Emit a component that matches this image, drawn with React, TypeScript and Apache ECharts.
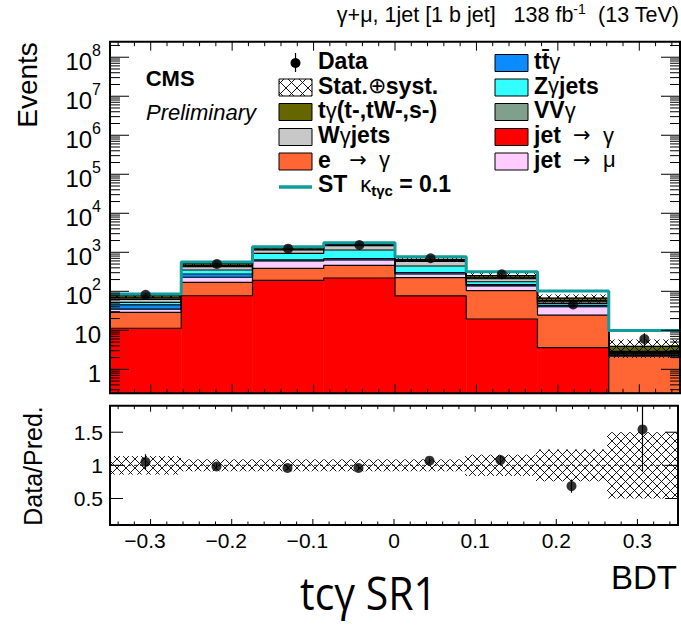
import React, { useEffect, useRef } from "react";
import * as echarts from "echarts";

const FONT = "'Liberation Sans', Arial, Helvetica, sans-serif";

// ---------- data ----------
const binEdges = [-0.35, -0.2625, -0.175, -0.0875, 0, 0.0875, 0.175, 0.2625, 0.35];
// stacked backgrounds, bottom -> top
const jetToGamma = [11.3, 77, 191, 219, 76, 19.5, 3.6, 0.1];
const eToGamma = [17.7, 93, 198, 245, 147, 84.5, 21, 2.09];
const jetToMu = [6, 59, 209, 171, 55, 33, 15.6, 0.1];
const ttGamma = [10, 49, 40, 50, 25, 12, 3.5, 0.15];
const zGammaJets = [7, 74, 304, 460, 142, 27, 5.3, 0.1];
const wGammaJets = [10, 75, 203, 331, 143, 34, 5, 0.15];
const vvGamma = [6, 27, 50, 50, 25, 12, 4, 0.2];
const tGamma = [9, 56, 93, 76, 43, 31, 9, 1.0];
const dataCounts = [81, 501, 1237, 1538, 702, 273, 46, 6];
const signalST = [8, 54, 105, 161, 115, 65, 35, 6];
const relUncertainty = [0.14, 0.09, 0.09, 0.09, 0.09, 0.16, 0.24, 0.5];
const xTickLabels = ["−0.3", "−0.2", "−0.1", "0", "0.1", "0.2", "0.3"];
const ratioTickLabels = ["0.5", "1", "1.5"];

const backgrounds = [
  { name: "jet → γ", values: jetToGamma, color: "#FF0000" },
  { name: "e → γ", values: eToGamma, color: "#FF6633" },
  { name: "jet → μ", values: jetToMu, color: "#FFCCFF" },
  { name: "tt̄γ", values: ttGamma, color: "#0A8CFF" },
  { name: "Zγjets", values: zGammaJets, color: "#33FFFF" },
  { name: "Wγjets", values: wGammaJets, color: "#C8C8C8" },
  { name: "VVγ", values: vvGamma, color: "#809F8C" },
  { name: "tγ(t-,tW-,s-)", values: tGamma, color: "#666600" },
];

// ---------- axis ranges ----------
const X_MIN = -0.35, X_MAX = 0.35;
const Y_MIN = 0.243, Y_MAX = 2.5e8;
const R_MIN = 0.1, R_MAX = 1.9;
const TEAL = "#0E9C9C";

function hatchSegments(x0: number, y0: number, x1: number, y1: number, p: number) {
  const segs: number[][] = [];
  for (let k = Math.floor((x0 - y1) / p); k <= Math.ceil((x1 - y0) / p); k++) {
    const c = k * p;
    const lo = Math.max(x0, y0 + c), hi = Math.min(x1, y1 + c);
    if (hi > lo) segs.push([lo, lo - c, hi, hi - c]);
  }
  for (let k = Math.floor((x0 + y0) / p); k <= Math.ceil((x1 + y1) / p); k++) {
    const c = k * p;
    const lo = Math.max(x0, c - y1), hi = Math.min(x1, c - y0);
    if (hi > lo) segs.push([lo, c - lo, hi, c - hi]);
  }
  return segs;
}
function segsToPath(segs: number[][]) {
  return segs.map((s) => `M${s[0]} ${s[1]}L${s[2]} ${s[3]}`).join("");
}

function buildOption() {
  const nBins = binEdges.length - 1;
  const centers = binEdges.slice(0, -1).map((e, i) => (e + binEdges[i + 1]) / 2);
  const cum: number[][] = [];
  let run = new Array(nBins).fill(0);
  backgrounds.forEach((b) => {
    run = run.map((v, i) => v + b.values[i]);
    cum.push(run.slice());
  });
  const total = cum[cum.length - 1];

  const series: any[] = [];

  // stacked fills
  backgrounds.forEach((b, l) => {
    const lower = l === 0 ? new Array(nBins).fill(Y_MIN) : cum[l - 1];
    series.push({
      type: "custom",
      name: b.name,
      xAxisIndex: 0,
      yAxisIndex: 0,
      z: 2,
      silent: true,
      clip: true,
      encode: { x: [0, 1], y: [2, 3] },
      data: lower.map((lo, i) => [binEdges[i], binEdges[i + 1], Math.max(lo, Y_MIN), cum[l][i]]),
      renderItem: (params: any, api: any) => {
        const hi = api.value(3);
        if (hi <= Y_MIN) return { type: "group", children: [] };
        const a = api.coord([api.value(0), api.value(2)]);
        const c = api.coord([api.value(1), Math.min(hi, Y_MAX)]);
        return {
          type: "rect",
          shape: { x: a[0], y: c[1], width: c[0] - a[0], height: a[1] - c[1] },
          style: { fill: b.color, stroke: b.color, lineWidth: 0.6 },
        };
      },
    });
  });

  // outlines (step lines)
  backgrounds.forEach((b, l) => {
    const pts: number[][] = [];
    cum[l].forEach((v, i) => {
      const y = Math.max(v, Y_MIN);
      pts.push([binEdges[i], y], [binEdges[i + 1], y]);
    });
    series.push({
      type: "line",
      xAxisIndex: 0,
      yAxisIndex: 0,
      z: 3,
      silent: true,
      symbol: "none",
      data: pts,
      lineStyle: { color: "#000", width: 1.2 },
    });
  });

  // uncertainty hatch (top)
  series.push({
    type: "custom",
    xAxisIndex: 0,
    yAxisIndex: 0,
    z: 4,
    silent: true,
    clip: true,
    encode: { x: [0, 1], y: [2, 3] },
    data: total.map((t, i) => [binEdges[i], binEdges[i + 1], t * (1 - relUncertainty[i]), t * (1 + relUncertainty[i])]),
    renderItem: (params: any, api: any) => {
      const a = api.coord([api.value(0), api.value(2)]);
      const c = api.coord([api.value(1), api.value(3)]);
      return {
        type: "path",
        shape: { pathData: segsToPath(hatchSegments(a[0], c[1], c[0], a[1], 9)) || "M0 0" },
        style: { stroke: "#000", lineWidth: 0.9, fill: null },
      };
    },
  });

  // signal ST line
  const stPts: number[][] = [];
  total.forEach((t, i) => {
    stPts.push([binEdges[i], t + signalST[i]], [binEdges[i + 1], t + signalST[i]]);
  });
  series.push({
    type: "line",
    xAxisIndex: 0,
    yAxisIndex: 0,
    z: 5,
    silent: true,
    symbol: "none",
    data: stPts,
    lineStyle: { color: TEAL, width: 3 },
  });

  // data error bars + points
  series.push({
    type: "custom",
    xAxisIndex: 0,
    yAxisIndex: 0,
    z: 6,
    silent: true,
    clip: true,
    encode: { x: 0, y: [1, 2] },
    data: dataCounts.map((n, i) => [centers[i], n - Math.sqrt(n), n + Math.sqrt(n)]),
    renderItem: (params: any, api: any) => {
      const a = api.coord([api.value(0), api.value(1)]);
      const c = api.coord([api.value(0), api.value(2)]);
      return { type: "line", shape: { x1: a[0], y1: a[1], x2: c[0], y2: c[1] }, style: { stroke: "#000", lineWidth: 1.2 } };
    },
  });
  series.push({
    type: "scatter",
    xAxisIndex: 0,
    yAxisIndex: 0,
    z: 7,
    silent: true,
    symbol: "circle",
    symbolSize: 10,
    itemStyle: { color: "#000" },
    data: dataCounts.map((n, i) => [centers[i], n]),
  });

  // ---- ratio panel ----
  series.push({
    type: "custom",
    xAxisIndex: 1,
    yAxisIndex: 1,
    z: 4,
    silent: true,
    clip: true,
    encode: { x: [0, 1], y: [2, 3] },
    data: relUncertainty.map((u, i) => [binEdges[i], binEdges[i + 1], 1 - u, 1 + u]),
    renderItem: (params: any, api: any) => {
      const a = api.coord([api.value(0), api.value(2)]);
      const c = api.coord([api.value(1), api.value(3)]);
      return {
        type: "path",
        shape: { pathData: segsToPath(hatchSegments(a[0], c[1], c[0], a[1], 9)) || "M0 0" },
        style: { stroke: "#000", lineWidth: 0.9, fill: null },
      };
    },
  });
  series.push({
    type: "line",
    xAxisIndex: 1,
    yAxisIndex: 1,
    z: 3,
    silent: true,
    symbol: "none",
    data: [[X_MIN, 1], [X_MAX, 1]],
    lineStyle: { color: "#333", width: 1, type: [3, 3] },
  });
  const ratio = dataCounts.map((n, i) => n / total[i]);
  const ratioErr = dataCounts.map((n, i) => Math.sqrt(n) / total[i]);
  series.push({
    type: "custom",
    xAxisIndex: 1,
    yAxisIndex: 1,
    z: 6,
    silent: true,
    clip: true,
    encode: { x: 0, y: [1, 2] },
    data: ratio.map((r, i) => [centers[i], r - ratioErr[i], r + ratioErr[i]]),
    renderItem: (params: any, api: any) => {
      const a = api.coord([api.value(0), api.value(1)]);
      const c = api.coord([api.value(0), api.value(2)]);
      return { type: "line", shape: { x1: a[0], y1: a[1], x2: c[0], y2: c[1] }, style: { stroke: "#000", lineWidth: 1.2 } };
    },
  });
  series.push({
    type: "scatter",
    xAxisIndex: 1,
    yAxisIndex: 1,
    z: 7,
    silent: true,
    symbol: "circle",
    symbolSize: 10,
    itemStyle: { color: "#000" },
    data: ratio.map((r, i) => [centers[i], r]),
  });

  // ---- frames & ticks ----
  series.push({
    type: "custom",
    xAxisIndex: 0,
    yAxisIndex: 0,
    z: 10,
    silent: true,
    clip: false,
    data: [[0, 1]],
    renderItem: (params: any, api: any) => {
      const [lx, by] = api.coord([X_MIN, Y_MIN]);
      const [rx, ty] = api.coord([X_MAX, Y_MAX]);
      let d = "";
      for (let i = -17; i <= 17; i++) {
        const x = api.coord([i * 0.02, 1])[0];
        const len = i % 5 === 0 ? 9 : 4.5;
        d += `M${x} ${by}L${x} ${by - len}M${x} ${ty}L${x} ${ty + len}`;
      }
      for (let k = -1; k <= 8; k++) {
        for (let m = 1; m <= 9; m++) {
          const v = m * Math.pow(10, k);
          if (v < Y_MIN || v > Y_MAX) continue;
          const y = api.coord([0, v])[1];
          const len = m === 1 ? 19 : 10;
          d += `M${lx} ${y}L${lx + len} ${y}M${rx} ${y}L${rx - len} ${y}`;
        }
      }
      return {
        type: "group",
        children: [
          { type: "path", shape: { pathData: d }, style: { stroke: "#000", lineWidth: 1, fill: null } },
          { type: "rect", shape: { x: lx, y: ty, width: rx - lx, height: by - ty }, style: { stroke: "#000", lineWidth: 2, fill: null } },
        ],
      };
    },
  });
  series.push({
    type: "custom",
    xAxisIndex: 1,
    yAxisIndex: 1,
    z: 10,
    silent: true,
    clip: false,
    data: [[0, 1]],
    renderItem: (params: any, api: any) => {
      const [lx, by] = api.coord([X_MIN, R_MIN]);
      const [rx, ty] = api.coord([X_MAX, R_MAX]);
      let d = "";
      for (let i = -17; i <= 17; i++) {
        const x = api.coord([i * 0.02, 1])[0];
        const len = i % 5 === 0 ? 6 : 3.5;
        d += `M${x} ${by}L${x} ${by - len}M${x} ${ty}L${x} ${ty + len}`;
      }
      [0.5, 1, 1.5].forEach((v) => {
        const y = api.coord([0, v])[1];
        d += `M${lx} ${y}L${lx + 13} ${y}M${rx} ${y}L${rx - 13} ${y}`;
      });
      return {
        type: "group",
        children: [
          { type: "path", shape: { pathData: d }, style: { stroke: "#000", lineWidth: 1, fill: null } },
          { type: "rect", shape: { x: lx, y: ty, width: rx - lx, height: by - ty }, style: { stroke: "#000", lineWidth: 2, fill: null } },
        ],
      };
    },
  });

  // ---------- graphic texts & legend ----------
  const g: any[] = [];
  const txt = (x: number, y: number, text: string, style: any = {}, extra: any = {}) =>
    g.push({
      type: "text",
      x,
      y,
      z: 100,
      ...extra,
      style: {
        text,
        fill: "#000",
        fontFamily: FONT,
        fontSize: 20,
        align: "left",
        textAlign: "left",
        verticalAlign: "middle",
        textVerticalAlign: "middle",
        ...style,
      },
    });
  const legRich = {
    b: { fontFamily: FONT, fontWeight: "bold", fontSize: 23, lineHeight: 22, fill: "#000" },
    g: { fontFamily: FONT, fontWeight: "normal", fontSize: 22, lineHeight: 22, fill: "#000" },
    arr: { fontFamily: "'DejaVu Sans', sans-serif", fontWeight: "normal", fontSize: 21, lineHeight: 20, fill: "#000" },
    sub: { fontFamily: FONT, fontWeight: "bold", fontSize: 15, lineHeight: 15, fill: "#000", padding: [12, 0, 0, 0] },
  };
  const rows = [61, 85.5, 110, 135, 159.5, 184];
  const LBX = 279, RBX = 495, BW = 33, BH = 17;
  const box = (x: number, row: number, color: string) =>
    g.push({ type: "rect", z: 100, shape: { x, y: row - 6.5, width: BW, height: BH }, style: { fill: color, stroke: "#000", lineWidth: 1 } });

  // Data entry
  g.push({ type: "line", z: 100, shape: { x1: LBX + 16.5, y1: rows[0] - 8, x2: LBX + 16.5, y2: rows[0] + 11 }, style: { stroke: "#000", lineWidth: 1.2 } });
  g.push({ type: "circle", z: 101, shape: { cx: LBX + 16.5, cy: rows[0] + 2, r: 5 }, style: { fill: "#000" } });
  txt(318, rows[0], "{b|Data}", { rich: legRich });
  // Stat entry
  box(LBX, rows[1], "#fff");
  hatchSegments(LBX, rows[1] - 6.5, LBX + BW, rows[1] + 10.5, 11).forEach((s) =>
    g.push({ type: "line", z: 101, shape: { x1: s[0], y1: s[1], x2: s[2], y2: s[3] }, style: { stroke: "#000", lineWidth: 0.9 } })
  );
  txt(318, rows[1], "{b|Stat.}{g|⊕}{b|syst.}", { rich: legRich });
  box(LBX, rows[2], backgrounds[7].color);
  txt(318, rows[2], "{b|t}{g|γ}{b|(t-,tW-,s-)}", { rich: legRich });
  box(LBX, rows[3], backgrounds[5].color);
  txt(318, rows[3], "{b|W}{g|γ}{b|jets}", { rich: legRich });
  box(LBX, rows[4], backgrounds[1].color);
  txt(318, rows[4], "{b|e}{g|   }{arr|→}{g|  γ}", { rich: legRich });
  g.push({ type: "line", z: 100, shape: { x1: LBX, y1: rows[5] + 3, x2: LBX + BW, y2: rows[5] + 3 }, style: { stroke: TEAL, lineWidth: 3.5 } });
  txt(318, rows[5], "{b|ST  }{g|κ}{sub|tγc}{b| = 0.1}", { rich: legRich });

  box(RBX, rows[0], backgrounds[3].color);
  txt(534, rows[0], "{b|tt̄}{g|γ}", { rich: legRich });
  box(RBX, rows[1], backgrounds[4].color);
  txt(534, rows[1], "{b|Z}{g|γ}{b|jets}", { rich: legRich });
  box(RBX, rows[2], backgrounds[6].color);
  txt(534, rows[2], "{b|VV}{g|γ}", { rich: legRich });
  box(RBX, rows[3], backgrounds[0].color);
  txt(534, rows[3], "{b|jet}{g|  }{arr|→}{g|  γ}", { rich: legRich });
  box(RBX, rows[4], backgrounds[2].color);
  txt(534, rows[4], "{b|jet}{g|  }{arr|→}{g|  μ}", { rich: legRich });

  // CMS labels
  txt(145.7, 78.5, "CMS", { fontWeight: "bold", fontSize: 22 });
  txt(146, 112.5, "Preliminary", { fontStyle: "italic", fontSize: 22 });

  // top-right title
  txt(679, 14.5, "{n|γ+μ, 1jet [1 b jet]   138 fb}{s|-1}{n|  (13 TeV)}", {
    align: "right",
    textAlign: "right",
    rich: {
      n: { fontFamily: FONT, fontSize: 21.5, fill: "#000" },
      s: { fontFamily: FONT, fontSize: 14, fill: "#000", padding: [0, 0, 11, 0] },
    },
  });

  // axis titles
  txt(27.5, 85, "Events", { fontSize: 28, align: "center", textAlign: "center" }, { rotation: Math.PI / 2 });
  txt(32.6, 466, "Data/Pred.", { fontSize: 25, align: "center", textAlign: "center" }, { rotation: Math.PI / 2 });
  txt(677, 577, "BDT", { fontSize: 33, align: "right", textAlign: "right" });
  txt(368.5, 592.5, "tcγ SR1", { fontSize: 46, fontFamily: "'Open Sans', 'Noto Sans', sans-serif", align: "center", textAlign: "center" }, { scaleX: 0.89 });

  const option: any = {
    animation: false,
    backgroundColor: "#fff",
    grid: [
      { left: 110, top: 41.7, width: 570, height: 351.6, show: false },
      { left: 110, top: 405.7, width: 570, height: 119.3, show: false },
    ],
    xAxis: [
      {
        gridIndex: 0, type: "value", min: X_MIN, max: X_MAX,
        axisLine: { show: false }, axisTick: { show: false }, splitLine: { show: false }, axisLabel: { show: false },
      },
      {
        gridIndex: 1, type: "value", min: X_MIN, max: X_MAX, interval: 0.05,
        axisLine: { show: false }, axisTick: { show: false }, splitLine: { show: false },
        axisLabel: {
          margin: 5,
          color: "#000",
          fontFamily: FONT,
          fontSize: 21,
          showMinLabel: true,
          showMaxLabel: true,
          formatter: (v: number) => {
            const k = Math.round(v * 100);
            if (k % 10 !== 0) return "";
            const idx = k / 10 + 3;
            const s = xTickLabels[idx];
            if (s === undefined) return "";
            return k < 0 ? `{neg|${s}}` : `{pos|${s}}`;
          },
          rich: {
            neg: { fontFamily: FONT, fontSize: 21, color: "#000", padding: [0, 11, 0, 0] },
            pos: { fontFamily: FONT, fontSize: 21, color: "#000" },
          },
        },
      },
    ],
    yAxis: [
      {
        gridIndex: 0, type: "log", logBase: 10, min: Y_MIN, max: Y_MAX,
        axisLine: { show: false }, axisTick: { show: false }, splitLine: { show: false },
        axisLabel: {
          margin: 9,
          showMinLabel: false,
          showMaxLabel: false,
          formatter: (v: number) => {
            const k = Math.round(Math.log10(v));
            if (Math.abs(Math.log10(v) - k) > 1e-6) return "";
            if (k === 0) return "{b|1}";
            if (k === 1) return "{b|10}";
            return `{b|10}{s|${k}}`;
          },
          rich: {
            b: { fontFamily: FONT, fontSize: 24, lineHeight: 24, color: "#000", padding: [8, 0, 0, 0] },
            s: { fontFamily: FONT, fontSize: 16, lineHeight: 16, color: "#000", padding: [0, 0, 14, 0] },
          },
        },
      },
      {
        gridIndex: 1, type: "value", min: R_MIN, max: R_MAX, interval: 0.1,
        axisLine: { show: false }, axisTick: { show: false }, splitLine: { show: false },
        axisLabel: {
          margin: 7,
          color: "#000",
          fontFamily: FONT,
          fontSize: 21,
          formatter: (v: number) => {
            const k = Math.round(v * 10);
            if (k === 5) return ratioTickLabels[0];
            if (k === 10) return ratioTickLabels[1];
            if (k === 15) return ratioTickLabels[2];
            return "";
          },
        },
      },
    ],
    series,
    graphic: g,
  };
  return option;
}

export default function App() {
  const ref = useRef<HTMLDivElement>(null);
  useEffect(() => {
    document.body.style.margin = "0";
    if (!ref.current) return;
    const chart = echarts.init(ref.current, undefined, { renderer: "svg" });
    chart.setOption(buildOption());
    return () => chart.dispose();
  }, []);
  return <div ref={ref} style={{ position: "fixed", left: 0, top: 0, width: 681, height: 625 }} />;
}
